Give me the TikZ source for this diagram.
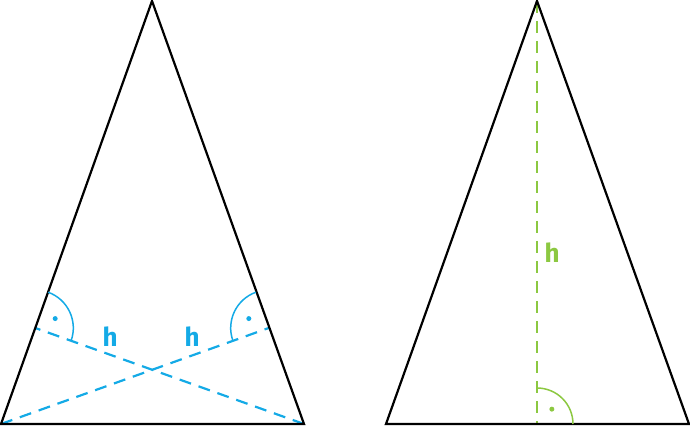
\documentclass[tikz,border=0pt]{standalone}
\usepackage{fontspec}
\setmainfont{Fira Sans}
\usetikzlibrary{calc}
\definecolor{hblue}{RGB}{20,170,230}
\definecolor{hgreen}{RGB}{140,200,65}
\tikzset{
  tri/.style={line width=2.2pt, line join=miter, black},
  alt/.style={line width=2.2pt, dash pattern=on 12pt off 8pt},
  rarc/.style={line width=1.5pt},
  hlab/.style={font=\fontsize{26}{26}\selectfont\bfseries, inner sep=0pt},
  rdot/.style={circle, fill, inner sep=0pt, minimum size=5pt}
}
\begin{document}
\begin{tikzpicture}[x=1pt,y=1pt]
\useasboundingbox (0,0) rectangle (690,426);
% left triangle
\coordinate (A) at (1,2);
\coordinate (B) at (304,2);
\coordinate (C) at (152,425);
\coordinate (F1) at (35.3,98);
\coordinate (F2) at (268.7,98);
\draw[alt, hblue] (B) -- (F1);
\draw[alt, hblue] (A) -- (F2);
\draw[tri] (A) -- (B) -- (C) -- cycle;
\draw[rarc, hblue] ($(F1)+(70.36:38)$) arc[start angle=70.36, end angle=-19.64, radius=38];
\draw[rarc, hblue] ($(F2)+(109.64:38)$) arc[start angle=109.64, end angle=199.64, radius=38];
\node[rdot, hblue] (d1) at ($(F1)+(25.36:22)$) {};
\node[rdot, hblue] (d2) at ($(F2)+(154.64:22)$) {};
\node[hlab, text=hblue] (h1) at (110,89) {h};
\node[hlab, text=hblue] (h2) at (192,89) {h};
% right triangle
\coordinate (P) at (386,2);
\coordinate (Q) at (689,2);
\coordinate (R) at (537,425);
\coordinate (F3) at (537,2);
\draw[alt, hgreen] (R) -- (F3);
\draw[tri] (P) -- (Q) -- (R) -- cycle;
\draw[rarc, hgreen] ($(F3)+(0:36)$) arc[start angle=0, end angle=90, radius=36];
\node[rdot, hgreen] (d3) at ($(F3)+(45:21)$) {};
\node[hlab, text=hgreen] (h3) at (552,173) {h};
\end{tikzpicture}
\end{document}
